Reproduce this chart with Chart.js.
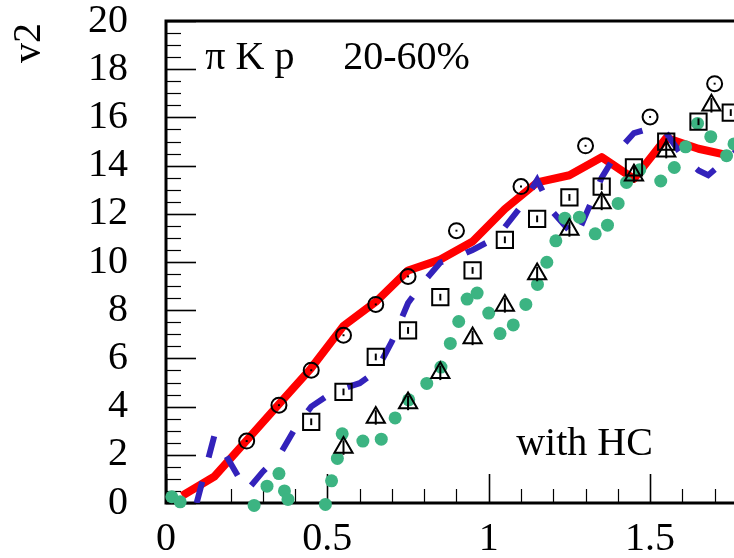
<!DOCTYPE html>
<html>
<head>
<meta charset="utf-8">
<title>v2 pi K p 20-60%</title>
<script src="https://cdn.jsdelivr.net/npm/chart.js@4.4.1/dist/chart.umd.min.js"></script>
<style>
    html, body { margin: 0; padding: 0; background: #fff; }
    canvas { display: block; }
</style>
</head>
<body>
<canvas id="v2Chart" width="734" height="558"></canvas>
<script>
// tick labels
var xTicks = [0, 0.5, 1, 1.5];
var yTicks = [0, 2, 4, 6, 8, 10, 12, 14, 16, 18, 20];

// pion (open circles)
var pionX = [0.25, 0.35, 0.45, 0.55, 0.65, 0.75, 0.9, 1.1, 1.3, 1.5, 1.7];
var pionY = [2.57, 4.06, 5.51, 6.96, 8.24, 9.40, 11.30, 13.13, 14.82, 16.02, 17.4];

// kaon (open squares)
var kaonX = [0.45, 0.55, 0.65, 0.75, 0.85, 0.95, 1.05, 1.15, 1.25, 1.35, 1.45, 1.55, 1.65, 1.75];
var kaonY = [3.37, 4.61, 6.06, 7.16, 8.54, 9.65, 10.92, 11.79, 12.68, 13.13, 13.93, 14.99, 15.82, 16.2];

// proton (open triangles)
var protonX = [0.55, 0.65, 0.75, 0.85, 0.95, 1.05, 1.15, 1.25, 1.35, 1.45, 1.55, 1.69];
var protonY = [2.3, 3.55, 4.15, 5.4, 6.85, 8.2, 9.5, 11.35, 12.45, 13.6, 14.6, 16.5];

// green dots
var dotX = [0.018, 0.044, 0.273, 0.313, 0.350, 0.367, 0.378, 0.494, 0.513, 0.531, 0.546,
    0.61, 0.667, 0.71, 0.752, 0.808, 0.852, 0.881, 0.907, 0.933, 0.964, 1.0, 1.035,
    1.076, 1.115, 1.151, 1.180, 1.208, 1.236, 1.281, 1.330, 1.368, 1.401, 1.427, 1.468,
    1.533, 1.575, 1.610, 1.647, 1.688, 1.737, 1.76];
var dotY = [0.26, 0.05, -0.1, 0.70, 1.22, 0.50, 0.15, -0.06, 0.92, 1.85, 2.87,
    2.57, 2.65, 3.53, 4.28, 4.96, 5.64, 6.62, 7.53, 8.46, 8.71, 7.88, 7.03,
    7.39, 8.24, 9.07, 9.99, 10.88, 11.82, 11.86, 11.17, 11.53, 12.43, 13.30, 13.83,
    13.36, 13.92, 14.78, 15.75, 15.20, 14.41, 14.9];

// red solid curve
var redX = [0.05, 0.15, 0.25, 0.35, 0.45, 0.55, 0.65, 0.75, 0.85, 0.95, 1.05, 1.15, 1.25, 1.35, 1.45, 1.55, 1.65, 1.75];
var redY = [0.3, 1.1, 2.6, 4.1, 5.6, 7.35, 8.35, 9.65, 10.1, 10.85, 12.2, 13.3, 13.6, 14.35, 13.45, 15.15, 14.7, 14.4];

// blue dashed curve
var blueX = [0.095, 0.15, 0.25, 0.3, 0.35, 0.4, 0.45, 0.5, 0.55, 0.6, 0.65, 0.7, 0.75, 0.8, 0.85,
    0.9, 0.95, 1.0, 1.05, 1.1, 1.15, 1.2, 1.27, 1.35, 1.4, 1.45, 1.5, 1.55, 1.6, 1.65, 1.68, 1.75, 1.8];
var blueY = [0, 2.8, 0.5, 1.3, 1.95, 3.1, 4.0, 4.45, 4.75, 4.97, 5.45, 6.7, 8.3, 9.2, 9.98,
    10.2, 10.5, 10.85, 11.45, 12.3, 13.4, 12.05, 11.0, 13.5, 14.6, 15.35, 15.55, 15.35, 14.4, 13.8, 13.6, 14.4, 15.0];

function toPoints(xs, ys) {
    return xs.map(function (x, i) {
        return { x: x, y: ys[i] };
    });
}

var serif = "'Liberation Serif', 'Times New Roman', serif";

function noPadding(s) {
    s.paddingTop = 0;
    s.paddingBottom = 0;
    s.paddingLeft = 0;
    s.paddingRight = 0;
}

// inner ticks, frame, texts
var framePlugin = {
    id: "frame",
    beforeDatasetsDraw(chart) {
        const { ctx, chartArea: { left, right, top, bottom }, scales: { x, y } } = chart;
        ctx.save();
        ctx.strokeStyle = "#000";
        // y ticks every 0.5, major every 2
        for (var i = 0; i <= 40; i++) {
            var v = i * 0.5;
            var py = Math.round(y.getPixelForValue(v)) + 0.5;
            var major = i % 4 === 0;
            ctx.lineWidth = major ? 1.6 : 1.2;
            ctx.beginPath();
            ctx.moveTo(left, py);
            ctx.lineTo(left + (major ? 30 : 15), py);
            ctx.stroke();
        }
        // x ticks every 0.1, major every 0.5
        for (var j = 0; j <= 17; j++) {
            var px = Math.round(x.getPixelForValue(j / 10)) + 0.5;
            var maj = j % 5 === 0;
            ctx.lineWidth = maj ? 1.6 : 1.2;
            ctx.beginPath();
            ctx.moveTo(px, bottom);
            ctx.lineTo(px, bottom - (maj ? 29 : 14));
            ctx.stroke();
        }
        // frame
        ctx.lineWidth = 3;
        ctx.beginPath();
        ctx.moveTo(right + 2, top);
        ctx.lineTo(left, top);
        ctx.lineTo(left, bottom);
        ctx.lineTo(right + 2, bottom);
        ctx.stroke();

        ctx.fillStyle = "#000";
        ctx.font = "40px " + serif;
        ctx.textAlign = "left";
        ctx.textBaseline = "alphabetic";
        ctx.fillText("\u03c0 K p", x.getPixelForValue(0.122), y.getPixelForValue(18));
        ctx.fillText("20-60%", x.getPixelForValue(0.549), y.getPixelForValue(18));
        ctx.fillText("with HC", x.getPixelForValue(1.085), y.getPixelForValue(2));

        ctx.translate(40, 63);
        ctx.rotate(-Math.PI / 2);
        ctx.fillText("v2", 0, 0);
        ctx.restore();
    },
    afterDatasetsDraw(chart) {
        // small vertical error bars inside the open markers
        const { ctx } = chart;
        ctx.save();
        ctx.strokeStyle = "#000";
        ctx.lineWidth = 2;
        chart.data.datasets.forEach(function (ds, k) {
            if (!ds.errY) return;
            var meta = chart.getDatasetMeta(k);
            var ys = chart.scales.y;
            ds.data.forEach(function (p, i) {
                var el = meta.data[i];
                ctx.beginPath();
                ctx.moveTo(el.x, ys.getPixelForValue(p.y - ds.errY));
                ctx.lineTo(el.x, ys.getPixelForValue(p.y + ds.errY));
                ctx.stroke();
            });
        });
        ctx.restore();
    },
};

var ctx = document.getElementById("v2Chart");
var v2Chart = new Chart(ctx, {
    type: "scatter",
    data: {
        datasets: [
            {
                label: "pi",
                data: toPoints(pionX, pionY),
                pointStyle: "circle",
                pointRadius: 7.5,
                pointBorderWidth: 2,
                pointBorderColor: "#000",
                pointBackgroundColor: "rgba(0,0,0,0)",
                errY: 0.04,
            },
            {
                label: "p",
                data: toPoints(protonX, protonY),
                pointStyle: "triangle",
                pointRadius: 10.5,
                pointBorderWidth: 2,
                pointBorderColor: "#000",
                pointBackgroundColor: "rgba(0,0,0,0)",
                errY: 0.3,
            },
            {
                label: "K",
                data: toPoints(kaonX, kaonY),
                pointStyle: "rect",
                pointRadius: 11.5,
                pointBorderWidth: 2,
                pointBorderColor: "#000",
                pointBackgroundColor: "rgba(0,0,0,0)",
                errY: 0.14,
            },
            {
                label: "dots",
                data: toPoints(dotX, dotY),
                pointStyle: "circle",
                pointRadius: 6.5,
                pointBorderWidth: 0,
                pointBackgroundColor: "#3cb482",
                clip: false,
            },
            {
                label: "dashed",
                data: toPoints(blueX, blueY),
                showLine: true,
                borderColor: "#3322bb",
                borderWidth: 6,
                borderDash: [22, 25],
                borderCapStyle: "butt",
                pointRadius: 0,
                tension: 0,
            },
            {
                label: "solid",
                data: toPoints(redX, redY),
                showLine: true,
                borderColor: "#ff0000",
                borderWidth: 8,
                borderJoinStyle: "round",
                pointRadius: 0,
                tension: 0,
            },
        ],
    },
    options: {
        responsive: false,
        animation: false,
        layout: {
            autoPadding: false,
            padding: { top: 21, right: 0, bottom: 0, left: 0 },
        },
        plugins: {
            legend: { display: false },
            tooltip: { enabled: false },
        },
        scales: {
            x: {
                type: "linear",
                min: 0,
                max: 1.76,
                grid: { display: false, drawTicks: false, tickLength: 0 },
                border: { display: false },
                afterBuildTicks: function (s) {
                    s.ticks = xTicks.map(function (v) { return { value: v }; });
                },
                afterFit: function (s) {
                    s.height = 55;
                    noPadding(s);
                },
                ticks: {
                    color: "#000",
                    font: { family: serif, size: 40 },
                    padding: 12,
                    maxRotation: 0,
                    autoSkip: false,
                    callback: function (v) { return String(v); },
                },
            },
            y: {
                type: "linear",
                min: 0,
                max: 20,
                grid: { display: false, drawTicks: false, tickLength: 0 },
                border: { display: false },
                afterBuildTicks: function (s) {
                    s.ticks = yTicks.map(function (v) { return { value: v }; });
                },
                afterFit: function (s) {
                    s.width = 166;
                    noPadding(s);
                },
                ticks: {
                    color: "#000",
                    font: { family: serif, size: 40 },
                    padding: 38,
                    autoSkip: false,
                    callback: function (v) { return String(v); },
                },
            },
        },
    },
    plugins: [framePlugin],
});
</script>
</body>
</html>
